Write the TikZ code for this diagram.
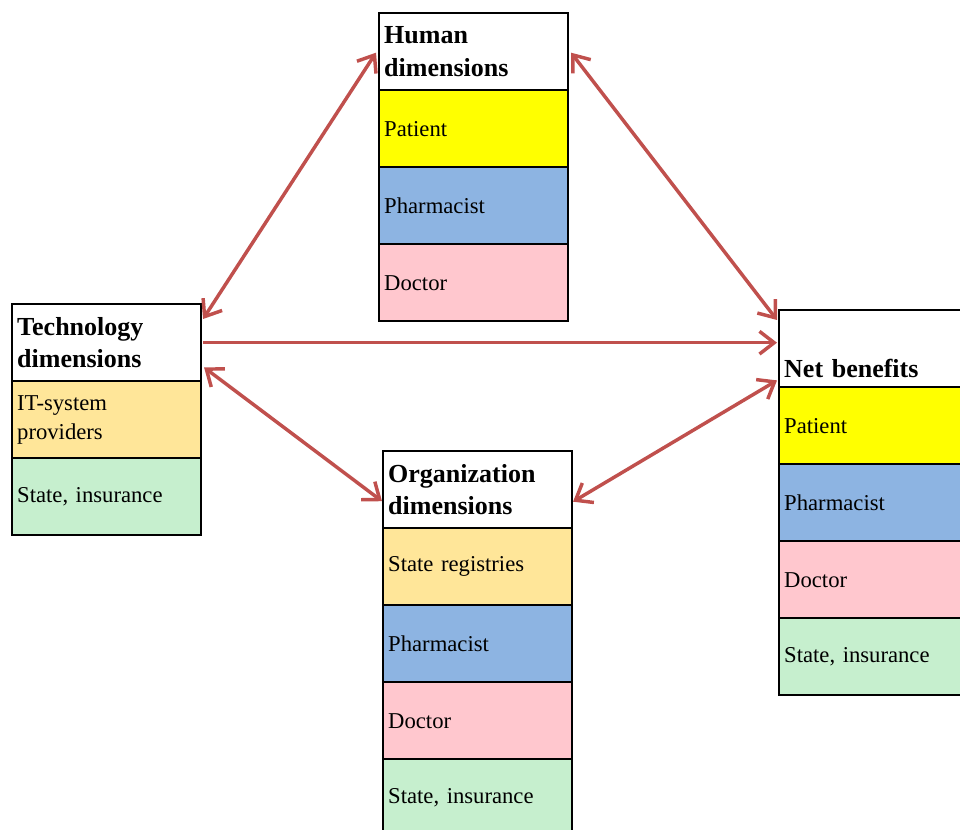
\documentclass[tikz,border=0pt]{standalone}
\usepackage{fontspec}
\setmainfont{Liberation Serif}
\usetikzlibrary{arrows.meta,calc}
\definecolor{cyel}{HTML}{FFFF00}
\definecolor{cblue}{HTML}{8DB4E2}
\definecolor{cpink}{HTML}{FFC7CE}
\definecolor{cgreen}{HTML}{C6EFCE}
\definecolor{corange}{HTML}{FFE699}
\definecolor{cred}{HTML}{C0504D}
\begin{document}
\begin{tikzpicture}[x=0.75pt,y=-0.75pt,
  cell/.style={draw=black,line width=1.8pt,anchor=north west,minimum width=141.5pt,
    minimum height=57.75pt,inner xsep=3.75pt,inner ysep=0pt,text width=134pt,
    align=left,font=\fontsize{17}{22}\selectfont},
  head/.style={cell,fill=white,font=\fontsize{19.5}{24.5}\selectfont\bfseries},
  conn/.style={draw=cred,line width=2.6pt},
  bar/.tip={Straight Barb[length=11pt,width=17pt]},
]
\useasboundingbox (0,0) rectangle (960,830);
\clip (0,0) rectangle (960,830);

% Human dimensions
\node[head] (hum-h) at (378,12) {Human\\dimensions};
\node[cell,fill=cyel] (hum-1) at (378,89) {Patient};
\node[cell,fill=cblue] (hum-2) at (378,166) {Pharmacist};
\node[cell,fill=cpink] (hum-3) at (378,243) {Doctor};

% Technology dimensions
\node[head] (tech-h) at (11,303) {Technology\\dimensions};
\node[cell,fill=corange] (tech-1) at (11,380) {IT-system\\providers};
\node[cell,fill=cgreen] (tech-2) at (11,457) {State, insurance};

% Organization dimensions
\node[head] (org-h) at (382,450) {Organization\\dimensions};
\node[cell,fill=corange] (org-1) at (382,527) {State registries};
\node[cell,fill=cblue] (org-2) at (382,604) {Pharmacist};
\node[cell,fill=cpink] (org-3) at (382,681) {Doctor};
\node[cell,fill=cgreen] (org-4) at (382,758) {State, insurance};

% Net benefits
\node[head] (net-h) at (778,309) {\strut\\[2pt]Net benefits};
\node[cell,fill=cyel] (net-1) at (778,386) {Patient};
\node[cell,fill=cblue] (net-2) at (778,463) {Pharmacist};
\node[cell,fill=cpink] (net-3) at (778,540) {Doctor};
\node[cell,fill=cgreen] (net-4) at (778,617) {State, insurance};

% Connectors
\draw[conn,bar-bar] ($(tech-h.north east)+(1,16)$) -- ($(hum-h.west)+(-2,1)$);
\draw[conn,bar-bar] ($(hum-h.east)+(2,1)$) -- ($(net-h.north west)+(-1,11)$);
\draw[conn,-bar] ($(tech-h.east)+(1,0)$) -- ($(tech-h.east -| net-h.west)+(-1,0)$);
\draw[conn,bar-bar] ($(tech-h.south east)+(2,-15)$) -- ($(org-h.west)+(0,11.5)$);
\draw[conn,bar-bar] ($(org-h.east)+(0,12)$) -- ($(net-h.south west)+(-1,-8)$);
\end{tikzpicture}
\end{document}
